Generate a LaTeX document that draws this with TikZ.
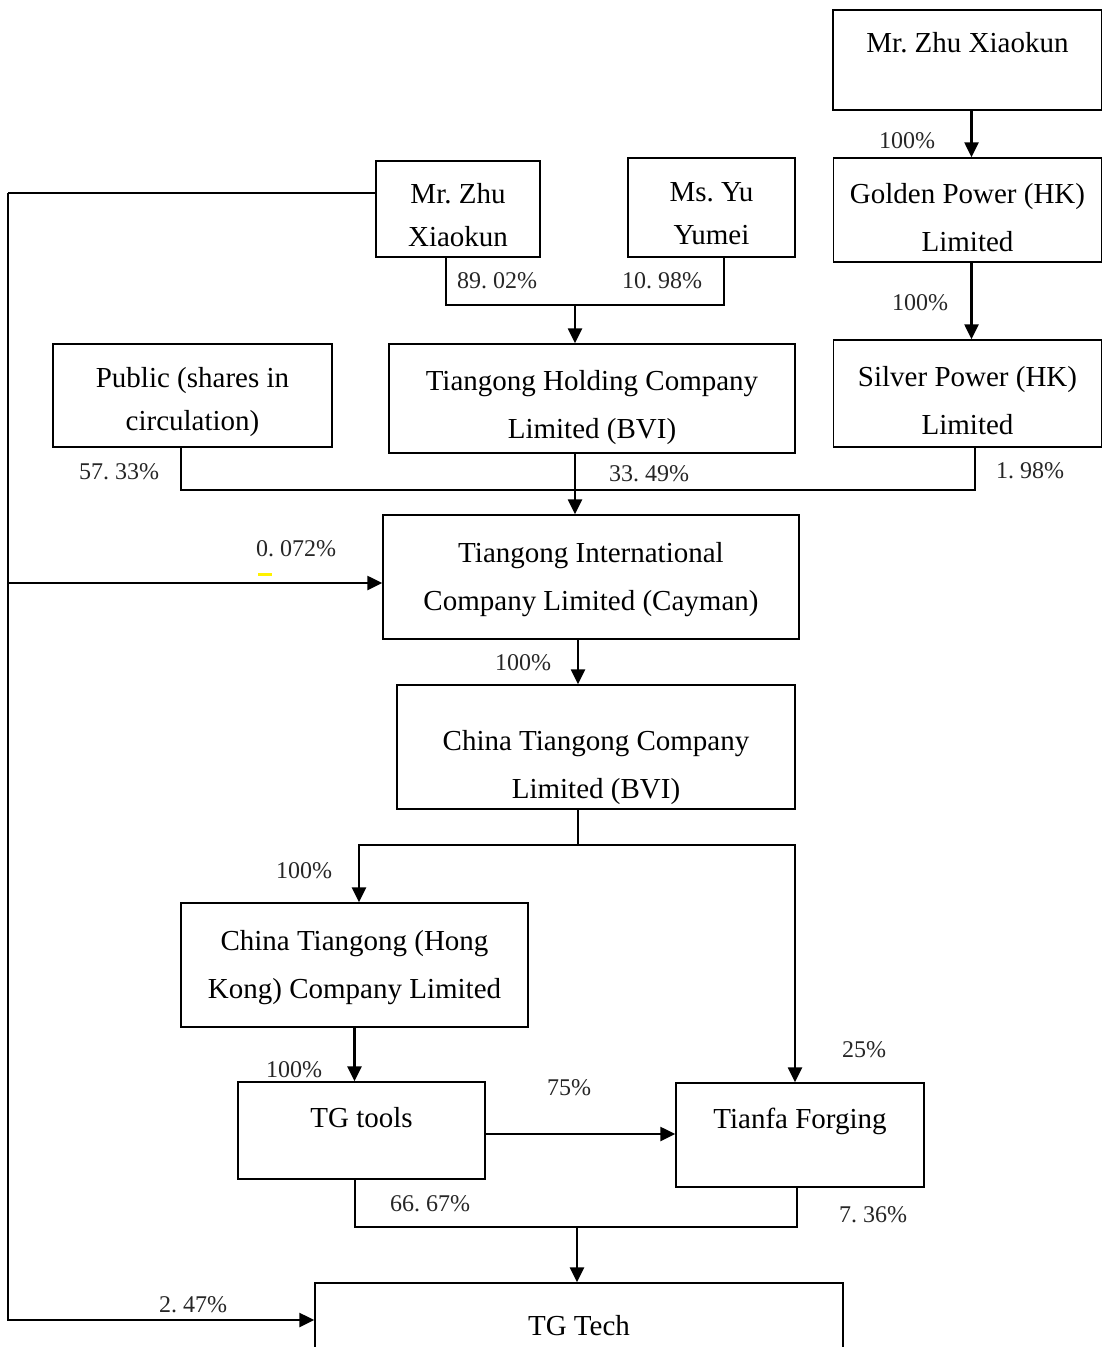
\documentclass[tikz,border=0pt]{standalone}
\usepackage{fontspec}
\setmainfont{Liberation Serif}
\usetikzlibrary{arrows.meta,calc}

\tikzset{
  box/.style={draw, line width=1.5pt, inner sep=0pt, align=center,
    font=\fontsize{29}{48}\selectfont},
  tightbox/.style={box, font=\fontsize{29}{43}\selectfont},
  link/.style={line width=1.5pt},
  arr/.style={line width=2.6pt, -{Triangle[length=15pt,width=14pt]}},
  pct/.style={inner sep=0pt, text=black!85, font=\fontsize{24}{28}\selectfont}
}
% strut that pushes a two-line text down
\def\lift#1{\rule{0pt}{#1}}

\begin{document}
\begin{tikzpicture}[x=1pt,y=-1pt]
\useasboundingbox (0,0) rectangle (1102,1347);

% Boxes
\node[box, minimum width=269, minimum height=100, text height=42pt, text depth=58pt] (zhuTop) at (967.5,60) {Mr.\ Zhu Xiaokun};
\node[box, minimum width=268, minimum height=104] (golden) at (967.5,210) {\lift{36pt}Golden Power (HK)\\Limited};
\node[box, minimum width=268, minimum height=107] (silver) at (967.5,393.5) {\lift{34pt}Silver Power (HK)\\Limited};
\node[tightbox, minimum width=164, minimum height=96] (zhuMid) at (458,209) {\lift{32pt}Mr.\ Zhu\\Xiaokun};
\node[tightbox, minimum width=167, minimum height=99] (yu) at (711.5,207.5) {\lift{31pt}Ms.\ Yu\\Yumei};
\node[tightbox, minimum width=279, minimum height=103] (public) at (192.5,395.5) {\lift{34pt}Public (shares in\\circulation)};
\node[box, minimum width=406, minimum height=109] (holding) at (592,398.5) {\lift{38pt}Tiangong Holding Company\\Limited (BVI)};
\node[box, minimum width=416, minimum height=124] (intl) at (591,577) {\lift{25pt}Tiangong International\\Company Limited (Cayman)};
\node[box, minimum width=398, minimum height=124] (chinaTG) at (596,747) {\lift{62pt}China Tiangong Company\\Limited (BVI)};
\node[box, minimum width=347, minimum height=124] (hk) at (354.5,965) {\lift{25pt}China Tiangong (Hong\\Kong) Company Limited};
\node[box, minimum width=247, minimum height=97, text height=45pt, text depth=52pt] (tools) at (361.5,1130.5) {TG tools};
\node[box, minimum width=248, minimum height=104, text height=45pt, text depth=59pt] (tianfa) at (800,1135) {Tianfa Forging};
\node[box, minimum width=528, minimum height=120, text height=52pt, text depth=68pt] (tech) at (579,1343) {TG Tech};

% Junctions
\coordinate (jHold) at (575,305);
\coordinate (jIntl) at (575,490);
\coordinate (jSplit) at (578,845);
\coordinate (jTech) at (577,1227);
\coordinate (leftTop) at (8,193);
\coordinate (leftBot) at (8,1320);

% Arrows
\draw[arr] ([xshift=4pt]zhuTop.south) -- ([xshift=4pt]golden.north);
\draw[arr] ([xshift=4pt]golden.south) -- ([xshift=4pt]silver.north);

\draw[link] ([xshift=-12pt]zhuMid.south) |- (jHold) -| ([xshift=12.5pt]yu.south);
\draw[arr] (jHold) -- (jHold |- holding.north);

\draw[link] ([xshift=-11.5pt]public.south) |- (jIntl) -| ([xshift=7.5pt]silver.south);
\draw[arr] (holding.south -| jIntl) -- (intl.north -| jIntl);

\draw[link] (zhuMid.west |- leftTop) -- (leftTop);
\draw[arr] (leftTop) -- (leftBot) -- (leftBot -| tech.west);
\draw[arr] ($(intl.west -| leftTop)+(0,6)$) -- ($(intl.west)+(0,6)$);

\draw[arr] (intl.south -| 578,0) -- (chinaTG.north -| 578,0);
\draw[link] (chinaTG.south -| jSplit) -- (jSplit);
\draw[arr] (jSplit) -| ([xshift=4.5pt]hk.north);
\draw[arr] (jSplit) -| ([xshift=-5pt]tianfa.north);

\draw[arr] (hk.south) -- (hk.south |- tools.north);
\draw[arr] ($(tools.east)+(0,3.5)$) -- ($(tools.east -| tianfa.west)+(0,3.5)$);

\draw[link] ([xshift=-6.5pt]tools.south) |- (jTech) -| ([xshift=-3pt]tianfa.south);
\draw[arr] (jTech) -- (jTech |- tech.north);

% Percentages
\node[pct] (pGolden) at (907,141) {100\%};
\node[pct] (pSilver) at (920,303) {100\%};
\node[pct] (pZhu) at (497,281) {89.~02\%};
\node[pct] (pYu) at (662,281) {10.~98\%};
\node[pct] (pPublic) at (119,472) {57.~33\%};
\node[pct] (pHold) at (649,474) {33.~49\%};
\node[pct] (pSilverUp) at (1030,471) {1.~98\%};
\node[pct] (pZhuIntl) at (296,549) {0.~072\%};
\node[pct] (pChina) at (523,663) {100\%};
\node[pct] (pHk) at (304,871) {100\%};
\node[pct] (pTianfa) at (864,1050) {25\%};
\node[pct] (pTools) at (294,1070) {100\%};
\node[pct] (pForge) at (569,1088) {75\%};
\node[pct] (pToolsTech) at (430,1204) {66.~67\%};
\node[pct] (pTianfaTech) at (873,1215) {7.~36\%};
\node[pct] (pZhuTech) at (193,1305) {2.~47\%};

% yellow mark under the zero
\draw[yellow, line width=3pt] (258,574) -- (272,574);
\end{tikzpicture}
\end{document}
